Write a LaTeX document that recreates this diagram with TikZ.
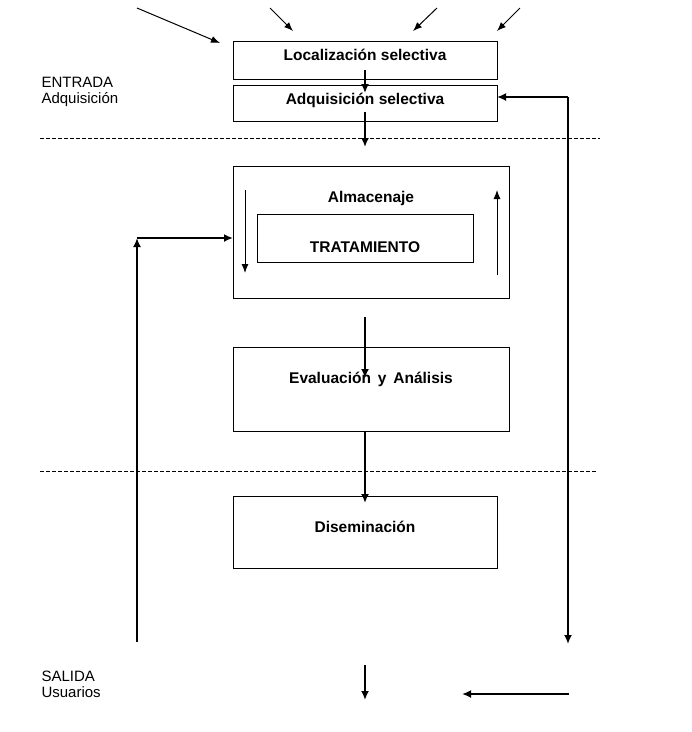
\documentclass[tikz,border=0pt]{standalone}
\usepackage{fontspec}
\setmainfont{Liberation Sans}
\usetikzlibrary{arrows.meta}
\begin{document}
\begin{tikzpicture}[x=1pt,y=-1pt,
 box/.style={draw,line width=1pt,inner sep=0pt},
 t/.style={font=\fontsize{15.5}{18}\selectfont\bfseries},
 lab/.style={font=\fontsize{15}{18}\selectfont,align=left,anchor=west},
 arr/.style={line width=2pt,-{Latex[length=9pt,width=8pt]}},
 thn/.style={line width=1pt,-{Latex[length=9pt,width=7pt]}},
 dsh/.style={line width=0.7pt,dash pattern=on 4pt off 2pt}]
\useasboundingbox (0,0) rectangle (692,732);
\draw[box] (233,41) rectangle (497,79); \node[t] (loc) at (365,55) {Localización selectiva};
\draw[box] (233,85) rectangle (497,121); \node[t] (adq) at (365,100) {Adquisición selectiva};
\draw[box] (233,166) rectangle (509,298); \node[t] (alm) at (371,198) {Almacenaje};
\draw[box] (257,214) rectangle (473,262); \node[t] (tra) at (365,247) {TRATAMIENTO};
\draw[box] (233,347) rectangle (509,431); \node[t] (eva) at (371,379) {Evaluación\, y\, Análisis};
\draw[box] (233,496) rectangle (497,568); \node[t] (dis) at (365,527) {Diseminación};
\node[lab] (ent) at (38,92) {ENTRADA\\[-2pt]Adquisición};
\node[lab] (sal) at (38,684) {SALIDA\\[-2pt]Usuarios};
\draw[dsh] (40,138) -- (600,138);
\draw[dsh] (40,471) -- (596,471);
\coordinate (a1) at (137,8); \coordinate (a2) at (220,43);
\draw[thn] (a1) -- (a2);
\draw[thn] (270,8) -- (293,31);
\draw[thn] (437,8) -- (413,31);
\draw[thn] (520,8) -- (497,31);
\draw[arr] (365,70) -- (365,93);
\draw[arr] (365,112) -- (365,147);
\draw[arr] (365,317) -- (365,378);
\draw[arr] (365,431) -- (365,503);
\draw[arr] (365,665) -- (365,700);
\draw[thn] (245,190) -- (245,273);
\draw[thn] (497,275) -- (497,190);
\coordinate (r1) at (568,97);
\draw[arr] (r1) -- (497,97);
\draw[arr] (r1) -- (568,644);
\draw[arr] (569,694) -- (462,694);
\coordinate (l1) at (137,238);
\draw[arr] (137,642) -- (l1);
\draw[arr] (l1) -- (233,238);
\end{tikzpicture}
\end{document}
